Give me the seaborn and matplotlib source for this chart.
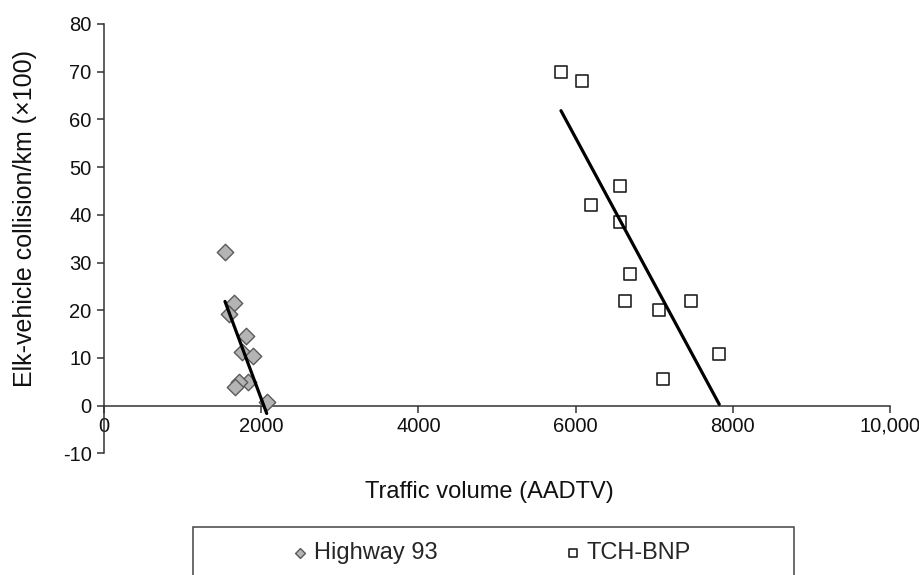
import pandas as pd
import seaborn as sns
import matplotlib.pyplot as plt
from matplotlib.patches import Rectangle

# Highway 93
hwy_aadtv = [1539, 1650, 1595, 1807, 1756, 1896, 1836, 1718, 1667, 2070]
hwy_evc = [32.2, 21.5, 19.2, 14.6, 11.3, 10.4, 4.9, 5.0, 3.9, 0.7]

# TCH-BNP
tch_aadtv = [5814, 6081, 6569, 6196, 6565, 6697, 6628, 7065, 7464, 7828, 7112]
tch_evc = [70.0, 68.0, 46.0, 42.1, 38.6, 27.5, 21.9, 20.1, 21.9, 10.9, 5.5]

x_ticks = [0, 2000, 4000, 6000, 8000, 10000]
x_tick_labels = ["0", "2000", "4000", "6000", "8000", "10,000"]
y_ticks = [-10, 0, 10, 20, 30, 40, 50, 60, 70, 80]

sns.set_style("white")
plt.rcParams['font.family'] = ['Liberation Sans', 'DejaVu Sans']
plt.rcParams['axes.unicode_minus'] = False

fig = plt.figure(figsize=(9.19, 5.75), dpi=100)
ax = fig.add_axes([0.1132, 0.2115, 0.8552, 0.7468])

hwy = pd.DataFrame({"AADTV": hwy_aadtv, "EVC": hwy_evc})
tch = pd.DataFrame({"AADTV": tch_aadtv, "EVC": tch_evc})

sns.scatterplot(data=hwy, x="AADTV", y="EVC", marker="D", s=70,
                color="#b4b4b4", edgecolor="#5a5a5a", linewidth=1,
                label="Highway 93", zorder=3, ax=ax)
sns.scatterplot(data=tch, x="AADTV", y="EVC", marker="s", s=80,
                color="white", edgecolor="#222222", linewidth=1.2,
                label="TCH-BNP", zorder=3, ax=ax)

# linear trend lines
for df in (hwy, tch):
    sns.regplot(data=df, x="AADTV", y="EVC", scatter=False, ci=None,
                color="black", line_kws={"lw": 2.3, "zorder": 4}, ax=ax)

ax.set_xlim(0, 10000)
ax.set_ylim(-10, 80)
ax.set_xticks(x_ticks)
ax.set_xticklabels(x_tick_labels)
ax.set_yticks(y_ticks)

ax.spines['top'].set_visible(False)
ax.spines['right'].set_visible(False)
ax.spines['bottom'].set_position(('data', 0))
for s in ('left', 'bottom'):
    ax.spines[s].set_color("#333333")
    ax.spines[s].set_linewidth(1.1)

ax.tick_params(axis='both', direction='out', length=5, width=1.1,
               color="#333333", labelsize=14.5, labelcolor="#111111",
               bottom=True, left=True)
ax.tick_params(axis='x', pad=3)
ax.tick_params(axis='y', pad=4)

ax.set_xlabel("Traffic volume (AADTV)", fontsize=17, color="#111111")
ax.set_ylabel("Elk-vehicle collision/km (×100)", fontsize=18, color="#111111")
ax.xaxis.set_label_coords(0.49, -0.064)
ax.yaxis.set_label_coords(-0.085, 0.548)

ax.legend(loc="center left", bbox_to_anchor=(279 / 919, 1 - 553 / 575),
          bbox_transform=fig.transFigure, ncol=2, frameon=False,
          fontsize=17, handlelength=0.8, handletextpad=0.2,
          columnspacing=5.3, borderpad=0, markerscale=0.6)

fig.patches.append(Rectangle((193 / 919, -0.0085), 601 / 919, 0.092,
                             transform=fig.transFigure, fill=False,
                             edgecolor="#444444", linewidth=1.1))

fig.savefig("out.png", dpi=100)
